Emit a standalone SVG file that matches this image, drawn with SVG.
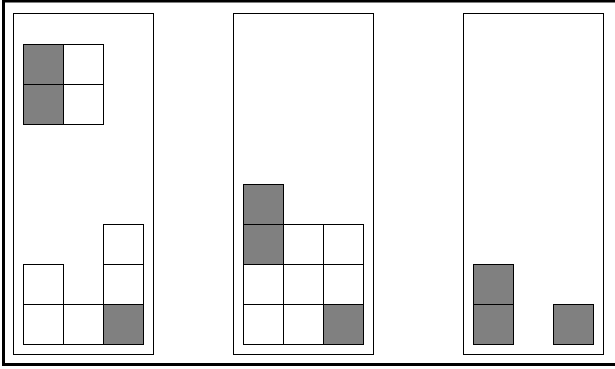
<svg xmlns="http://www.w3.org/2000/svg" width="615" height="369" viewBox="0 0 615 369">
<style>
.frame{fill:none;stroke:#000;stroke-width:3}
.panel{fill:#fff;stroke:#000;stroke-width:1}
.w{fill:#fff;stroke:#000;stroke-width:1}
.g{fill:#808080;stroke:#000;stroke-width:1}
</style>
<rect width="615" height="369" fill="#fff"/>
<rect class="frame" x="3.5" y="1" width="615" height="363.5"/>
<g id="panel1">
<rect class="panel" x="13.5" y="13.5" width="140" height="341"/>
<rect class="g" x="23.5" y="44.5" width="40" height="40"/>
<rect class="w" x="63.5" y="44.5" width="40" height="40"/>
<rect class="g" x="23.5" y="84.5" width="40" height="40"/>
<rect class="w" x="63.5" y="84.5" width="40" height="40"/>
<rect class="w" x="103.5" y="224.5" width="40" height="40"/>
<rect class="w" x="23.5" y="264.5" width="40" height="40"/>
<rect class="w" x="103.5" y="264.5" width="40" height="40"/>
<rect class="w" x="23.5" y="304.5" width="40" height="40"/>
<rect class="w" x="63.5" y="304.5" width="40" height="40"/>
<rect class="g" x="103.5" y="304.5" width="40" height="40"/>
</g>
<g id="panel2">
<rect class="panel" x="233.5" y="13.5" width="140" height="341"/>
<rect class="g" x="243.5" y="184.5" width="40" height="40"/>
<rect class="g" x="243.5" y="224.5" width="40" height="40"/>
<rect class="w" x="283.5" y="224.5" width="40" height="40"/>
<rect class="w" x="323.5" y="224.5" width="40" height="40"/>
<rect class="w" x="243.5" y="264.5" width="40" height="40"/>
<rect class="w" x="283.5" y="264.5" width="40" height="40"/>
<rect class="w" x="323.5" y="264.5" width="40" height="40"/>
<rect class="w" x="243.5" y="304.5" width="40" height="40"/>
<rect class="w" x="283.5" y="304.5" width="40" height="40"/>
<rect class="g" x="323.5" y="304.5" width="40" height="40"/>
</g>
<g id="panel3">
<rect class="panel" x="463.5" y="13.5" width="140" height="341"/>
<rect class="g" x="473.5" y="264.5" width="40" height="40"/>
<rect class="g" x="473.5" y="304.5" width="40" height="40"/>
<rect class="g" x="553.5" y="304.5" width="40" height="40"/>
</g>
<g id="connectors"></g>
</svg>
